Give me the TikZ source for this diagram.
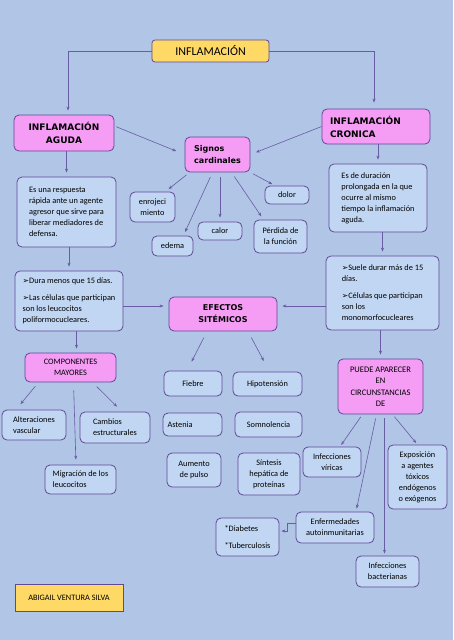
\documentclass[tikz,border=0pt]{standalone}
\usepackage{fontspec}
\setmainfont{Carlito}
\newfontfamily\dejavu{DejaVu Sans}
\usetikzlibrary{arrows.meta}

\definecolor{fondo}{RGB}{177,197,231}
\definecolor{celeste}{RGB}{193,214,242}
\definecolor{rosado}{RGB}{245,156,245}
\definecolor{amarillo}{RGB}{255,217,102}
\definecolor{borde}{RGB}{96,72,150}
\definecolor{linea}{RGB}{104,92,162}

\newcommand\flecha{{\dejavu\fontsize{7.8}{8}\selectfont ➢}}

\tikzset{
  caja/.style={draw=borde, fill=celeste, line width=0.8pt, rounded corners=5pt,
    inner sep=0pt, align=center, font=\fontsize{8.3}{11}\selectfont},
  rosa/.style={caja, fill=rosado},
  titulo/.style={rosa, font=\dejavu\bfseries\fontsize{9}{13}\selectfont},
  flechita/.style={->, draw=linea, line width=0.6pt, shorten >=4pt},
}

\begin{document}
\begin{tikzpicture}[x=1pt, y=-1pt, >={Stealth[length=4pt,width=3pt]}]
  \fill[fondo] (0,0) rectangle (453,640);

  % cabecera
  \node[caja, fill=amarillo, rounded corners=3pt, font=\fontsize{12}{14}\selectfont,
    minimum width=117, minimum height=22] (inf) at (210.5,51) {INFLAMACIÓN};
  \node[titulo, minimum width=100, minimum height=36] (agu) at (64,133) {INFLAMACIÓN\\AGUDA};
  \node[titulo, align=left, text width=92, minimum width=108, minimum height=35] (cro) at (376,126.5) {INFLAMACIÓN\\CRONICA};
  \node[titulo, align=left, font=\dejavu\bfseries\fontsize{8}{12}\selectfont,
    minimum width=65, minimum height=35] (sig) at (217.5,154.5) {Signos\\cardinales};

  % signos cardinales
  \node[caja, minimum width=45, minimum height=30] (enr) at (152.5,207) {enrojeci\\miento};
  \node[caja, minimum width=44, minimum height=18] (dol) at (287,195) {dolor};
  \node[caja, minimum width=44, minimum height=18] (cal) at (220,231) {calor};
  \node[caja, minimum width=41, minimum height=20] (ede) at (172.5,246) {edema};
  \node[caja, minimum width=53, minimum height=33] (per) at (280.5,236.5) {Pérdida de\\la función};

  % definiciones
  \node[caja, align=left, minimum width=99, minimum height=70] (esu) at (66.5,212)
    {Es una respuesta\\rápida ante un agente\\agresor que sirve para\\liberar mediadores de\\defensa.};
  \node[caja, align=left, minimum width=98, minimum height=68] (esd) at (378,198)
    {Es de duración\\prolongada en la que\\ocurre al mismo\\tiempo la inflamación\\aguda.};
  \node[caja, align=left, minimum width=108, minimum height=60] (dur) at (69,301)
    {\flecha Dura menos que 15 días.\\[6pt]\flecha Las células que participan\\son los leucocitos\\poliformocucleares.};
  \node[caja, align=left, minimum width=113, minimum height=74] (sue) at (382.5,293)
    {\flecha Suele durar más de 15\\días.\\[6pt]\flecha Células que participan\\son los\\monomorfocucleares};

  % efectos sistemicos
  \node[titulo, font=\dejavu\bfseries\fontsize{8}{12}\selectfont,
    minimum width=108, minimum height=34] (efe) at (223,314) {EFECTOS\\SITÉMICOS};
  \node[caja, minimum width=58, minimum height=25] (fie) at (193,383.5) {Fiebre};
  \node[caja, minimum width=69, minimum height=24] (hip) at (267.5,384) {Hipotensión};
  \node[caja, align=left, text width=50, minimum width=59, minimum height=23] (ast) at (192.5,424.5) {Astenia};
  \node[caja, minimum width=67, minimum height=25] (som) at (268.5,424.5) {Somnolencia};
  \node[caja, minimum width=54, minimum height=34] (aum) at (194,470) {Aumento\\de pulso};
  \node[caja, minimum width=62, minimum height=42] (sin) at (269,474) {Síntesis\\hepática de\\proteínas};

  % componentes
  \node[rosa, minimum width=91, minimum height=29] (com) at (70.5,367.5) {COMPONENTES\\MAYORES};
  \node[caja, align=left, minimum width=64, minimum height=30] (alt) at (34,425) {Alteraciones\\vascular};
  \node[caja, align=left, minimum width=70, minimum height=31] (cam) at (115,427.5) {Cambios\\estructurales};
  \node[caja, align=left, minimum width=71, minimum height=29] (mig) at (80.5,479.5) {Migración de los\\leucocitos};

  % circunstancias
  \node[rosa, font=\fontsize{8.5}{11.5}\selectfont, minimum width=85, minimum height=55] (pue) at (380.5,386.5)
    {PUEDE APARECER\\EN\\CIRCUNSTANCIAS\\DE};
  \node[caja, minimum width=58, minimum height=30] (vir) at (332,462) {Infecciones\\víricas};
  \node[caja, minimum width=59, minimum height=64] (exp) at (417.5,477)
    {Exposición\\a agentes\\tóxicos\\endógenos\\o exógenos};
  \node[caja, minimum width=78, minimum height=31] (enf) at (335,527.5) {Enfermedades\\autoinmunitarias};
  \node[caja, align=left, minimum width=63, minimum height=38] (dia) at (247.5,537) {*Diabetes\\[6pt]*Tuberculosis};
  \node[caja, minimum width=63, minimum height=31] (bac) at (387.5,571.5) {Infecciones\\bacterianas};

  \node[caja, fill=amarillo, rounded corners=0pt, minimum width=108, minimum height=27] (abi) at (69,597.5)
    {ABIGAIL VENTURA SILVA};

  % conectores
  \draw[flechita] (inf.west) -| ([xshift=4pt]agu.north);
  \draw[flechita, shorten >=6pt] (inf.east) -| ([xshift=-2pt]cro.north);
  \draw[flechita, shorten <=2pt, shorten >=9pt] ([yshift=7pt]agu.east) -- (sig.west);
  \draw[flechita, shorten >=6pt] (cro.west) -- (sig.east);
  \draw[flechita] (esu.north |- agu.south) -- (esu.north);
  \draw[flechita] (esd.north |- cro.south) -- (esd.north);
  \draw[flechita] (dur.north |- esu.south) -- (dur.north);
  \draw[flechita] (sue.north |- esd.south) -- (sue.north);
  \draw[flechita, shorten >=5pt] ([yshift=-5pt]dur.east) -- ([yshift=-5pt]dur.east -| efe.west);
  \draw[flechita, shorten >=5pt] ([yshift=-13pt]sue.west) -- ([yshift=-13pt]sue.west -| efe.east);
  \draw[flechita] ([xshift=6pt]com.north |- dur.south) -- ([xshift=6pt]com.north);
  \draw[flechita] (pue.north |- sue.south) -- (pue.north);

  \draw[flechita, shorten <=4pt] ([xshift=5pt]sig.south west) -- ([xshift=-10pt]enr.north east);
  \draw[flechita, shorten <=5pt] ([xshift=-5pt]sig.south) -- ([xshift=-10pt]ede.north east);
  \draw[flechita, shorten <=5pt] (cal.north |- sig.south) -- (cal.north);
  \draw[flechita, shorten <=5pt] ([xshift=14pt]sig.south) -- ([xshift=-17pt]per.north);
  \draw[flechita, shorten <=3pt, shorten >=3pt] (sig.south east) -- ([xshift=-12pt]dol.north);

  \draw[flechita, shorten <=7pt, shorten >=10pt] ([xshift=-16pt]efe.south) -- ([xshift=-6pt]fie.north);
  \draw[flechita, shorten <=7pt, shorten >=12pt] ([xshift=25pt]efe.south) -- ([xshift=2pt]hip.north);

  \draw[flechita, shorten <=5pt, shorten >=7pt] ([xshift=-32pt]com.south) -- ([xshift=-18pt]alt.north);
  \draw[flechita, shorten <=6pt, shorten >=7pt] ([xshift=22pt]com.south) -- ([xshift=7pt]cam.north);
  \draw[flechita, shorten <=8pt, shorten >=5pt] ([xshift=3pt]com.south) -- ([xshift=-4.5pt]mig.north);

  \draw[flechita, shorten <=3pt, shorten >=2pt] ([xshift=-18pt]pue.south) -- ([xshift=8pt]vir.north);
  \draw[flechita, shorten <=3pt, shorten >=2pt] ([xshift=12pt]pue.south) -- (exp.north);
  \draw[flechita, shorten <=4pt, shorten >=3pt] ([xshift=-4pt]pue.south) -- ([xshift=21pt]enf.north);
  \draw[flechita, shorten <=4pt, shorten >=2pt] ([xshift=-3pt]bac.north |- pue.south) -- ([xshift=-3pt]bac.north);
  \draw[flechita, shorten >=2pt] ([yshift=4.5pt]enf.west) -- ++(-8pt,0pt) |- ([yshift=6pt]dia.east);
\end{tikzpicture}
\end{document}
